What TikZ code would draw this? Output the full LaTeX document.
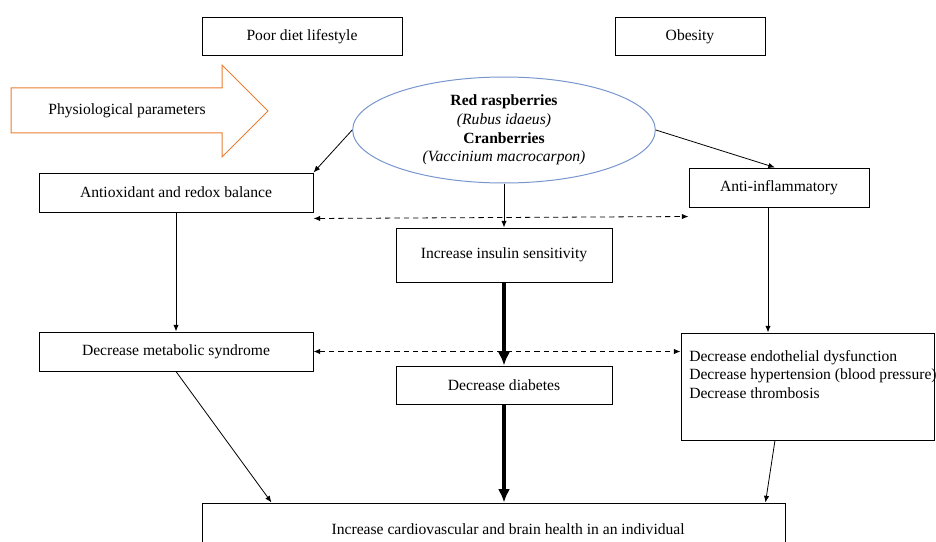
\documentclass[tikz,border=0pt]{standalone}
\usepackage{fontspec}
\setmainfont{Liberation Serif}
\usepackage{tikz}
\usetikzlibrary{arrows.meta,shapes.geometric}
\definecolor{arrowOrange}{RGB}{237,125,49}
\definecolor{ellipseBlue}{RGB}{120,150,205}

\begin{document}
\begin{tikzpicture}[x=0.75pt,y=0.75pt,yscale=-1,xscale=1,
    every node/.style={font=\fontsize{11.7pt}{14pt}\selectfont},
    box/.style={draw, line width=0.75pt, rectangle, inner sep=0pt},
    link/.style={-{Latex[length=5pt,width=4pt]}, line width=0.6pt},
    dlink/.style={{Latex[length=5pt,width=4pt]}-{Latex[length=5pt,width=4pt]}, dashed, dash pattern={on 4pt off 3pt}, line width=0.6pt},
    thick link/.style={-{Latex[length=10pt,width=9pt]}, line width=2.3pt}]
\useasboundingbox (0,0) rectangle (936,542);

%Shape: Right Arrow
\draw [color=arrowOrange, line width=0.75pt] (11,88) -- (222,88) -- (222,65) -- (268,111) -- (222,157) -- (222,133) -- (11,133) -- cycle ;
% Text Node
\draw (127,111) node (physio) {Physiological  parameters};

%Shape: Rectangle
\draw (302,37) node (poor) [box, minimum width=150pt, minimum height=28.5pt] {Poor diet lifestyle};
%Shape: Rectangle
\draw (690,37) node (obesity) [box, minimum width=112.5pt, minimum height=28.5pt] {Obesity};

%Shape: Ellipse
\draw (504,130) node (fruit) [ellipse, draw=ellipseBlue, line width=0.75pt, minimum width=227pt, minimum height=79.5pt, inner sep=0pt, align=center]
  {\textbf{Red raspberries}\\\textit{(Rubus idaeus)}\\\textbf{Cranberries}\\\textit{(Vaccinium macrocarpon)}};

%Shape: Rectangle
\draw (176,192.5) node (antiox) [box, minimum width=205.5pt, minimum height=29.25pt] {Antioxidant  and redox balance};
%Shape: Rectangle
\draw (779,187.5) node (antiinf) [box, minimum width=135pt, minimum height=29.25pt] {Anti-inflammatory};
%Shape: Rectangle
\draw (504,255) node (insulin) [box, minimum width=162pt, minimum height=40.5pt] {Increase insulin  sensitivity};
%Shape: Rectangle
\draw (176,351.5) node (metab) [box, minimum width=205.5pt, minimum height=29.25pt] {Decrease metabolic  syndrome};
%Shape: Rectangle
\draw (504,385) node (diab) [box, minimum width=162pt, minimum height=28.5pt] {Decrease diabetes};
%Shape: Rectangle
\draw (807.5,386.5) node (endo) [box, minimum width=189.75pt, minimum height=80.25pt] {};
% Text Node
\draw (689,350) node (endotext) [anchor=north west, inner sep=0pt, align=left]
  {Decrease endothelial  dysfunction\\Decrease hypertension  (blood pressure)\\Decrease thrombosis};
%Shape: Rectangle
\draw (493.5,529) node (health) [box, minimum width=437.25pt, minimum height=39pt] {\hspace*{22pt}Increase cardiovascular and brain health  in an individual};

%Straight Lines
\draw [link] (fruit.west) -- (antiox.north east);
\draw [link] (fruit.east) -- ([xshift=-3pt]antiinf.north);
\draw [link] (fruit.south) -- (insulin.north);
\draw [dlink] ([yshift=4.5pt]antiox.south east) -- ([yshift=6.75pt]antiinf.south west);
\draw [link] (antiox.south) -- (metab.north);
\draw [link] ([xshift=-8.25pt]antiinf.south) -- ([xshift=-8.25pt]antiinf.south |- endo.north);
\draw [dlink] (metab.east) -- (metab.east -| endo.west);
\draw [thick link] (insulin.south) -- (diab.north);
\draw [thick link] (diab.south) -- (diab.south |- health.north);
\draw [link] (metab.south) -- ([xshift=52.5pt]health.north west);
\draw [link] ([xshift=-24.4pt]endo.south) -- ([xshift=-15pt]health.north east);

\end{tikzpicture}
\end{document}
